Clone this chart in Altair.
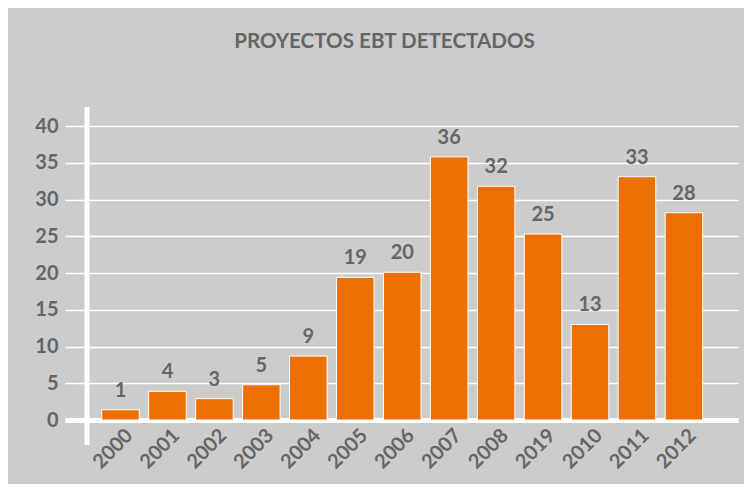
import altair as alt
import pandas as pd

years = ["2000", "2001", "2002", "2003", "2004", "2005", "2006",
         "2007", "2008", "2019", "2010", "2011", "2012"]
# bar heights as drawn in the picture
bar_heights = [1.4, 3.9, 2.9, 4.8, 8.7, 19.4, 20.1, 35.8, 31.8, 25.3, 13.0, 33.1, 28.2]
# printed labels above the bars
labels = [1, 4, 3, 5, 9, 19, 20, 36, 32, 25, 13, 33, 28]
y_ticks = [0, 5, 10, 15, 20, 25, 30, 35, 40]

df = pd.DataFrame({"year": years, "height": bar_heights, "label": labels})

FONT = "Lato"
GREY = "#666666"
ORANGE = "#ED6F00"

x_enc = alt.X("year:N", sort=years,
              scale=alt.Scale(paddingInner=0.2, paddingOuter=0.767, align=0.51),
              axis=alt.Axis(title=None, labelAngle=-45, domain=True, domainColor="white",
                            domainWidth=5, ticks=False, grid=False,
                            labelFont=FONT, labelFontWeight="bold", labelFontSize=20,
                            labelColor=GREY, labelPadding=5, labelOffset=2))
y_enc = alt.Y("height:Q", scale=alt.Scale(domain=[0, 40], nice=False),
              axis=alt.Axis(title=None, values=y_ticks, grid=True, gridColor="white",
                            gridWidth=1.5, domain=False, ticks=False, labelOverlap=False,
                            labelFont=FONT, labelFontWeight="bold", labelFontSize=20,
                            labelColor=GREY, labelPadding=7))

base = alt.Chart(df)
bars = base.mark_bar(color=ORANGE, stroke="white", strokeWidth=1).encode(x=x_enc, y=y_enc)
text = base.mark_text(font=FONT, fontWeight="bold", fontSize=20, color=GREY,
                      baseline="alphabetic", dy=-13).encode(
    x=x_enc, y=y_enc, text=alt.Text("label:Q"))
vline = alt.Chart(alt.Data(values=[{"a": 1}])).mark_rule(color="white", strokeWidth=5).encode(
    x=alt.value(22), y=alt.value(-19), y2=alt.value(319))

chart = alt.layer(bars, text, vline).properties(
    width=673, height=294,
    padding={"left": 57, "top": 118, "right": 6, "bottom": 64},
    autosize=alt.AutoSizeParams(type="none"),
    background="#cccccc",
    title=alt.TitleParams("PROYECTOS EBT DETECTADOS", font=FONT, fontWeight="bold",
                          fontSize=20.6, color=GREY, anchor="middle", dx=-17, offset=52),
).configure_view(stroke=None)

chart.save("out.html", embed_options={"renderer": "svg", "actions": False})
